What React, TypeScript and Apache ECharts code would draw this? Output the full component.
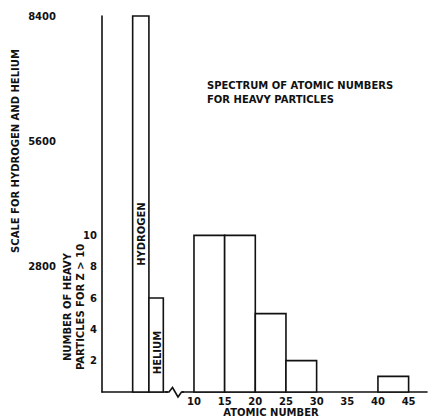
import React, { useEffect, useRef } from "react";
import * as echarts from "echarts";

// Light elements (left scale)
const lightNames = ["HYDROGEN", "HELIUM"];
const lightCounts = [8400, 2100];
// Heavy particles (Z > 10), histogram bins of atomic number
const binStarts = [10, 15, 20, 25, 40];
const binWidth = 5;
const heavyCounts = [10, 10, 5, 2, 1];
// Tick labels
const lightTicks = [2800, 5600, 8400];
const heavyTicks = [2, 4, 6, 8, 10];
const zTicks = [10, 15, 20, 25, 30, 35, 40, 45];

// layout slots for the light-element bars on the x axis (not atomic numbers)
const lightSlots = [
  [0, 2.65],
  [2.65, 5],
];

const FS = 10;
const FONT = `bold ${FS}px 'DejaVu Sans'`;
const INK = "#111";

export default function App() {
  const ref = useRef<HTMLDivElement>(null);
  useEffect(() => {
    const chart = echarts.init(ref.current!, null, { renderer: "svg" });
    const lightData = lightCounts.map((v, i) => [lightSlots[i][0], lightSlots[i][1], v, lightNames[i]]);
    const heavyData = heavyCounts.map((v, i) => [binStarts[i], binStarts[i] + binWidth, v]);
    const rectItem = (params: any, api: any) => {
      const x0 = api.value(0);
      const x1 = api.value(1);
      const v = api.value(2);
      const p0 = api.coord([x0, v]);
      const p1 = api.coord([x1, 0]);
      return {
        type: "rect",
        shape: { x: p0[0], y: p0[1], width: p1[0] - p0[0], height: p1[1] - p0[1] },
        style: { fill: "#fff", stroke: INK, lineWidth: 1.6 },
      };
    };
    const labelStyle = (fmt: (v: number) => string, margin: number) => ({
      margin,
      color: INK,
      fontFamily: "DejaVu Sans",
      fontWeight: "bold",
      fontSize: FS,
      formatter: fmt,
    });
    chart.setOption({
      animation: false,
      backgroundColor: "#fff",
      grid: { left: 102, right: 0, top: 16, bottom: 28 },
      xAxis: {
        type: "value",
        min: -5,
        max: 48,
        interval: 5,
        axisLine: { show: true, onZero: false, lineStyle: { color: INK, width: 1.6 } },
        axisTick: { show: false },
        splitLine: { show: false },
        axisLabel: labelStyle((v: number) => (zTicks.includes(v) ? String(v) : ""), 4),
      },
      yAxis: [
        {
          type: "value",
          min: 0,
          max: 24,
          interval: 2,
          position: "left",
          axisLine: { show: true, onZero: false, lineStyle: { color: INK, width: 1.6 } },
          axisTick: { show: false },
          splitLine: { show: false },
          axisLabel: labelStyle((v: number) => (heavyTicks.includes(v) ? String(v) : ""), 5),
        },
        {
          type: "value",
          min: 0,
          max: 8400,
          interval: 2800,
          position: "left",
          offset: 40,
          axisLine: { show: false, onZero: false },
          axisTick: { show: false },
          splitLine: { show: false },
          axisLabel: labelStyle((v: number) => (lightTicks.includes(v) ? String(v) : ""), 6),
        },
      ],
      series: [
        {
          type: "custom",
          yAxisIndex: 1,
          data: lightData,
          renderItem: (params: any, api: any) => {
            const x0 = api.value(0);
            const x1 = api.value(1);
            const v = api.value(2);
            const p0 = api.coord([x0, v]);
            const p1 = api.coord([x1, 0]);
            const name = lightNames[params.dataIndex];
            const cx = (p0[0] + p1[0]) / 2 + 1;
            const cy = p1[1] - (p1[1] - p0[1]) * 0.42;
            return {
              type: "group",
              children: [
                {
                  type: "rect",
                  shape: { x: p0[0], y: p0[1], width: p1[0] - p0[0], height: p1[1] - p0[1] },
                  style: { fill: "#fff", stroke: INK, lineWidth: 1.6 },
                },
                {
                  type: "text",
                  x: cx,
                  y: cy,
                  rotation: Math.PI / 2,
                  style: {
                    text: name,
                    font: FONT,
                    fill: INK,
                    align: "center",
                    verticalAlign: "middle",
                    textAlign: "center",
                    textVerticalAlign: "middle",
                  },
                },
              ],
            };
          },
        },
        {
          type: "custom",
          yAxisIndex: 0,
          data: heavyData,
          renderItem: rectItem,
        },
      ],
      graphic: [
        { type: "rect", z: 100, shape: { x: 168, y: 386, width: 14, height: 12 }, style: { fill: "#fff" } },
        {
          type: "polyline",
          z: 101,
          shape: { points: [[165, 392], [169, 392], [172.5, 387.5], [178, 397], [181.5, 392], [184, 392]] },
          style: { stroke: INK, lineWidth: 1.6, fill: null },
        },
        {
          type: "text",
          z: 100,
          left: 207,
          top: 78,
          style: {
            text: "SPECTRUM OF ATOMIC NUMBERS\nFOR HEAVY PARTICLES",
            font: FONT,
            fill: INK,
            lineHeight: 14,
          },
        },
        {
          type: "text",
          z: 100,
          x: 271,
          y: 412,
          style: { text: "ATOMIC NUMBER", font: FONT, fill: INK, align: "center", verticalAlign: "middle" },
        },
        {
          type: "text",
          z: 100,
          x: 15,
          y: 151,
          rotation: Math.PI / 2,
          style: {
            text: "SCALE FOR HYDROGEN AND HELIUM",
            font: FONT,
            fill: INK,
            align: "center",
            verticalAlign: "middle",
          },
        },
        {
          type: "text",
          z: 100,
          x: 73.5,
          y: 307,
          rotation: Math.PI / 2,
          style: {
            text: "NUMBER OF HEAVY\nPARTICLES FOR Z > 10",
            font: FONT,
            fill: INK,
            align: "center",
            verticalAlign: "middle",
            lineHeight: 13,
          },
        },
      ],
    });
    return () => chart.dispose();
  }, []);
  return (
    <div
      ref={ref}
      style={{ position: "fixed", left: 0, top: 0, width: 430, height: 420 }}
    />
  );
}
